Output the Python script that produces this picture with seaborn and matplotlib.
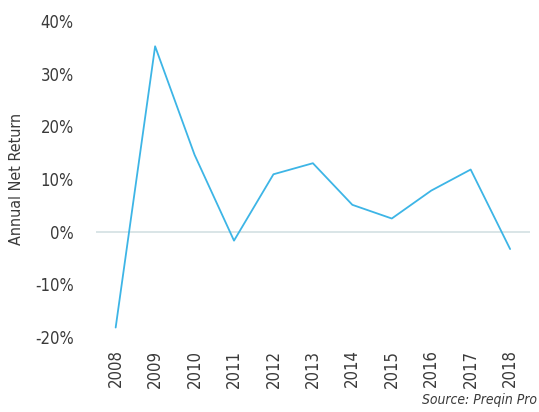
import matplotlib
matplotlib.use("Agg")
import matplotlib.pyplot as plt
import matplotlib.ticker as mticker
import pandas as pd
import seaborn as sns

years = [2008, 2009, 2010, 2011, 2012, 2013, 2014, 2015, 2016, 2017, 2018]
net_return = [-18.2, 35.2, 14.6, -1.7, 10.9, 13.0, 5.1, 2.5, 7.8, 11.8, -3.3]
y_ticks = [-20, -10, 0, 10, 20, 30, 40]

sns.set_theme(style="white")
plt.rcParams["font.family"] = ["DejaVu Sans"]
plt.rcParams["font.stretch"] = "condensed"

TEXT = "#3a3a3a"
LINE = "#3db5e6"

df = pd.DataFrame({"year": years, "ret": net_return})

fig = plt.figure(figsize=(5.39, 4.12), dpi=100)
ax = fig.add_axes([0.178, 0.182, 0.805, 0.767])

ax.axhline(0, color="#d3e0e3", lw=1.2, zorder=1)
sns.lineplot(data=df, x="year", y="ret", color=LINE, lw=1.3, ax=ax, zorder=2)

ax.set_xlim(years[0] - 0.5, years[-1] + 0.5)
ax.set_ylim(-20, 40)
ax.set_yticks(y_ticks)
ax.yaxis.set_major_formatter(mticker.FuncFormatter(lambda v, _: f"{v:.0f}%"))
ax.set_xticks(years)
ax.set_xticklabels([str(y) for y in years], rotation=90)
ax.tick_params(axis="both", length=0, labelsize=12, labelcolor=TEXT)
ax.tick_params(axis="y", pad=16)
ax.tick_params(axis="x", pad=9)

for s in ax.spines.values():
    s.set_visible(False)

ax.set_xlabel("")
ax.set_ylabel("Annual Net Return", fontsize=11.5, color=TEXT, labelpad=8)

fig.text(0.997, 0.012, "Source: Preqin Pro", ha="right", va="bottom",
         fontsize=10, style="italic", color=TEXT)

fig.savefig("out.png", dpi=100)
